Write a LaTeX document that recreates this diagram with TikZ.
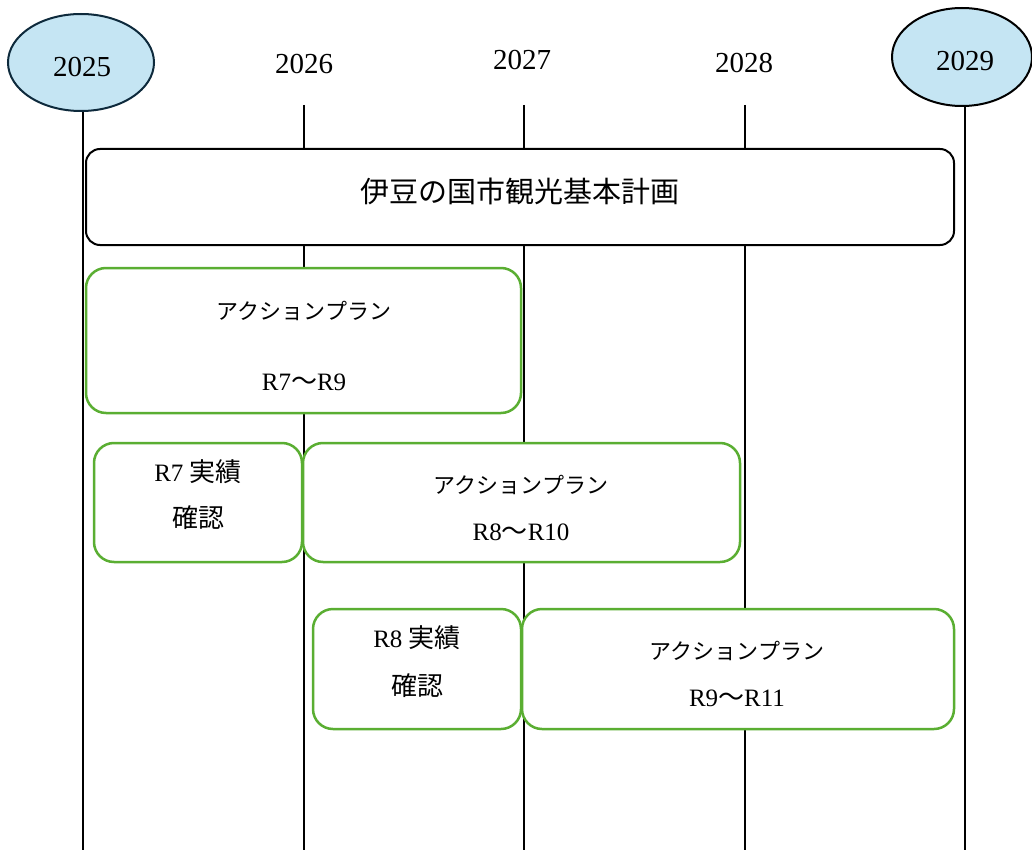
\documentclass[tikz,border=0pt]{standalone}
\usepackage{fontspec}
\setmainfont{Liberation Serif}
\newfontfamily\jp{Noto Sans CJK JP}
\usetikzlibrary{shapes.geometric}
\definecolor{yearfill}{HTML}{C5E5F3}
\definecolor{navy}{HTML}{0E2A3C}
\definecolor{pgreen}{HTML}{5AAE32}
\newcommand{\kana}{\jp\fontsize{22}{22}\selectfont}
\newcommand{\kanji}{\jp\fontsize{26}{26}\selectfont}
\newcommand{\wave}{{\jp\fontsize{26}{26}\selectfont ～}}
\tikzset{
  vline/.style={line width=1.5pt, black},
  yearell/.style={ellipse, draw, line width=2pt, fill=yearfill, inner sep=0pt, font=\fontsize{29}{29}\selectfont},
  yeartxt/.style={inner sep=0pt, font=\fontsize{29}{29}\selectfont},
  mainbox/.style={draw=black, line width=2pt, fill=white, rounded corners=14pt, inner sep=0pt},
  gbox/.style={draw=pgreen, line width=2.5pt, fill=white, rounded corners=20pt, inner sep=0pt},
  gtxt/.style={inner sep=0pt, font=\fontsize{25}{25}\selectfont},
}
\begin{document}
\begin{tikzpicture}[x=1pt,y=-1pt]
\useasboundingbox (0,0) rectangle (1032,850);
% line ends
\coordinate (t25) at (83,110);
\coordinate (t26) at (304,105);
\coordinate (t27) at (524,105);
\coordinate (t28) at (745,105);
\coordinate (t29) at (965,106);
\coordinate (b25) at (83,850);
\coordinate (b26) at (304,850);
\coordinate (b27) at (524,850);
\coordinate (b28) at (745,850);
\coordinate (b29) at (965,850);
\draw[vline] (t25) -- (b25);
\draw[vline] (t26) -- (b26);
\draw[vline] (t27) -- (b27);
\draw[vline] (t28) -- (b28);
\draw[vline] (t29) -- (b29);
% year markers
\node[yearell, draw=navy, minimum width=146, minimum height=97] (e25) at (81,62.5) {};
\node[yeartxt] (y25) at (82,67) {2025};
\node[yeartxt] (y26) at (304,64) {2026};
\node[yeartxt] (y27) at (522,60) {2027};
\node[yeartxt] (y28) at (744,63) {2028};
\node[yearell, draw=black, minimum width=140, minimum height=98] (e29) at (962,57) {};
\node[yeartxt] (y29) at (965,61) {2029};
% main plan
\node[mainbox, minimum width=868, minimum height=96] (plan) at (520,197) {};
\node[inner sep=0pt, font=\jp\fontsize{29}{29}\selectfont] (plantxt) at (520,191) {伊豆の国市観光基本計画};
% row 1
\node[gbox, minimum width=435, minimum height=145] (ap1) at (303.5,340.5) {};
\node[gtxt, font=\kana] (ap1a) at (304,311) {アクションプラン};
\node[gtxt] (ap1b) at (304,382) {R7\wave R9};
% row 2
\node[gbox, minimum width=208, minimum height=119] (rv7) at (198,502.5) {};
\node[gtxt] (rv7a) at (198,472) {R7 {\kanji 実績}};
\node[gtxt, font=\kanji] (rv7b) at (198,518) {確認};
\node[gbox, minimum width=437, minimum height=119] (ap2) at (521.5,502.5) {};
\node[gtxt, font=\kana] (ap2a) at (521,485) {アクションプラン};
\node[gtxt] (ap2b) at (521,532) {R8\wave R10};
% row 3
\node[gbox, minimum width=208, minimum height=120] (rv8) at (417,669) {};
\node[gtxt] (rv8a) at (417,638) {R8 {\kanji 実績}};
\node[gtxt, font=\kanji] (rv8b) at (417,686) {確認};
\node[gbox, minimum width=432, minimum height=120] (ap3) at (738,669) {};
\node[gtxt, font=\kana] (ap3a) at (737,651) {アクションプラン};
\node[gtxt] (ap3b) at (737,698) {R9\wave R11};
\end{tikzpicture}
\end{document}
